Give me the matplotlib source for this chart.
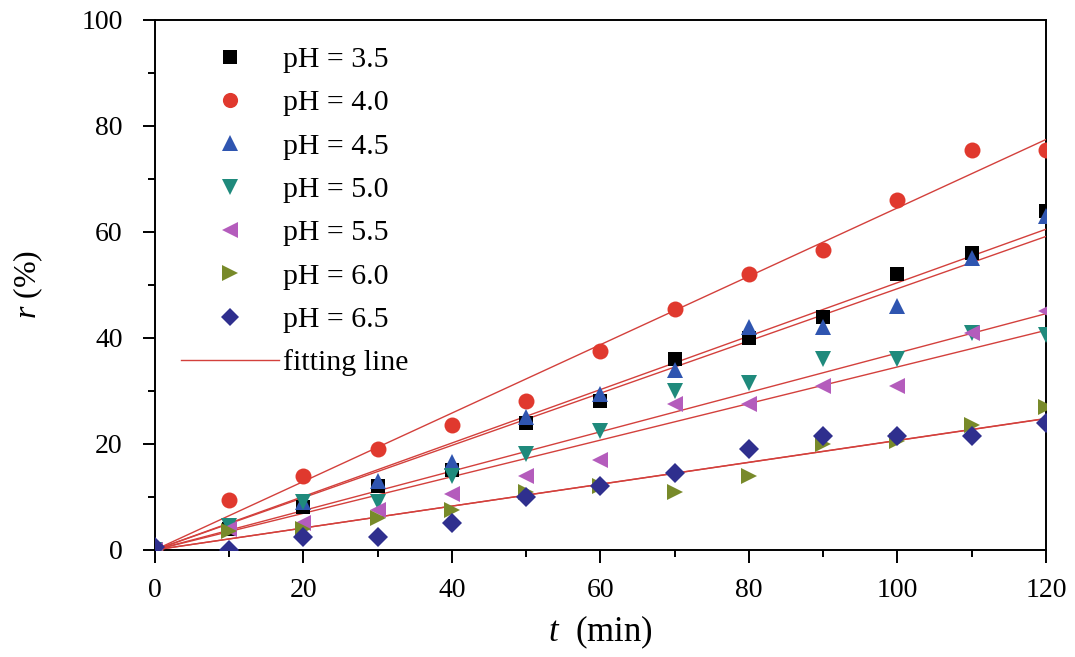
import numpy as np
import matplotlib
matplotlib.use('Agg')
import matplotlib.pyplot as plt
from matplotlib.lines import Line2D
from matplotlib.ticker import MultipleLocator

plt.rcParams['font.family'] = ['Liberation Serif', 'DejaVu Serif']
plt.rcParams['mathtext.fontset'] = 'custom'
plt.rcParams['mathtext.it'] = 'Liberation Serif:italic'
plt.rcParams['mathtext.rm'] = 'Liberation Serif'

t = [0, 10, 20, 30, 40, 50, 60, 70, 80, 90, 100, 110, 120]

ph_labels = ['pH = 3.5', 'pH = 4.0', 'pH = 4.5', 'pH = 5.0', 'pH = 5.5', 'pH = 6.0', 'pH = 6.5']

r_35 = [0, 4, 8, 12, 15, 24, 28, 36, 40, 44, 52, 56, 64]
r_40 = [0, 9.5, 14, 19, 23.5, 28, 37.5, 45.5, 52, 56.5, 66, 75.5, 75.5]
r_45 = [0, 4.5, 9, 13, 16.5, 25, 29.5, 34, 42, 42, 46, 55, 63]
r_50 = [0, 4.5, 9, 9, 14, 18, 22.5, 30, 31.5, 36, 36, 41, 40.5]
r_55 = [0, 4, 5, 7.5, 10.5, 14, 17, 27.5, 27.5, 31, 31, 41, 45]
r_60 = [0, 3.5, 4, 6, 7.5, 11, 12, 11, 14, 20, 20.5, 23.5, 27]
r_65 = [0.5, 0, 2.5, 2.5, 5, 10, 12, 14.5, 19, 21.5, 21.5, 21.5, 24]

series = [r_35, r_40, r_45, r_50, r_55, r_60, r_65]
markers = ['s', 'o', '^', 'v', '<', '>', 'D']
colors = ['#000000', '#e0392e', '#2f55b0', '#1f8a7c', '#b45cbc', '#788a2a', '#2f2f8e']
sizes = [10, 11.5, 12, 12, 12, 12, 10]

fig = plt.figure(figsize=(10.75, 6.57), dpi=100)
ax = fig.add_axes([0.144, 0.163, 0.829, 0.807])

tt = np.array(t, dtype=float)
# fitting lines through the origin (least squares)
for r in series:
    rr = np.array(r, dtype=float)
    k = np.sum(tt * rr) / np.sum(tt * tt)
    ax.plot([0, 120], [0, 120 * k], color='#d3403c', lw=1.0, zorder=3)

for r, m, c, s in zip(series, markers, colors, sizes):
    ax.plot(t, r, linestyle='none', marker=m, color=c, markersize=s,
            markeredgewidth=0, zorder=4)

ax.set_xlim(0, 120)
ax.set_ylim(0, 100)
ax.xaxis.set_major_locator(MultipleLocator(20))
ax.xaxis.set_minor_locator(MultipleLocator(10))
ax.yaxis.set_major_locator(MultipleLocator(20))
ax.yaxis.set_minor_locator(MultipleLocator(10))
ax.tick_params(which='major', direction='out', length=9, width=1.4, labelsize=20)
ax.tick_params(axis='x', which='major', pad=11)
ax.tick_params(axis='y', which='major', pad=14)
ax.tick_params(which='minor', direction='out', length=5, width=1.4)
ax.tick_params(top=False, right=False)
for sp in ax.spines.values():
    sp.set_linewidth(1.4)

ax.set_xlabel(r'$t$  (min)', fontsize=25, labelpad=8)
ax.set_ylabel(r'$r$ (%)', fontsize=23, labelpad=26)

handles = [Line2D([], [], linestyle='none', marker=m, color=c, markersize=s * 0.95,
                  markeredgewidth=0) for m, c, s in zip(markers, colors, sizes)]
handles.append(Line2D([], [], color='#d3403c', lw=1.0))
labels = ph_labels + ['fitting line']
ax.legend(handles, labels, loc='upper left', bbox_to_anchor=(0.029, 0.95),
          frameon=False, fontsize=21.5, handlelength=3.28, handletextpad=0.15,
          labelspacing=0.55, borderpad=0, borderaxespad=0)

fig.savefig('out.png', dpi=100)
